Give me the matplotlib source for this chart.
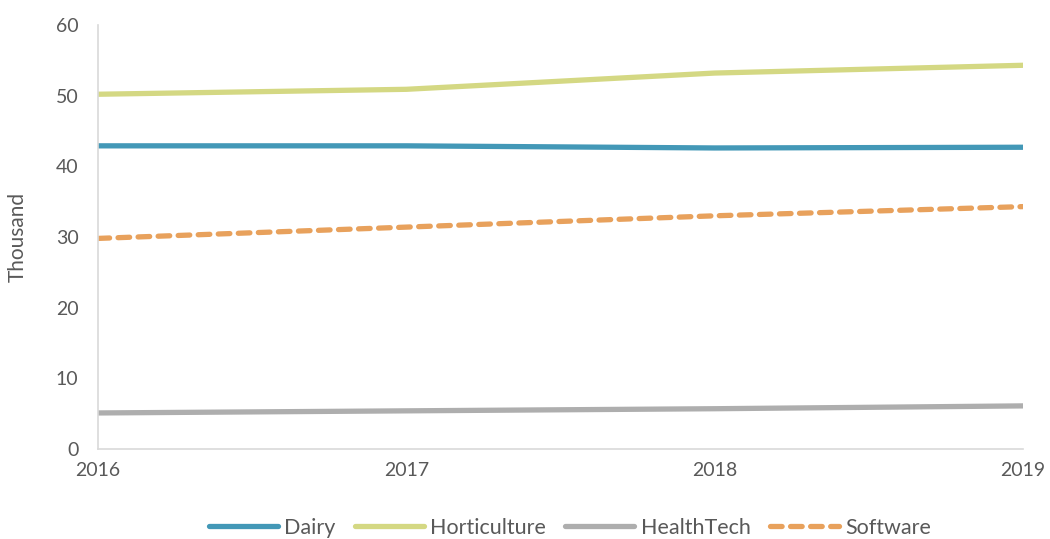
import matplotlib
matplotlib.use("Agg")
import matplotlib.pyplot as plt

years = [2016, 2017, 2018, 2019]
dairy = [42.9, 42.9, 42.6, 42.7]
horticulture = [50.2, 50.9, 53.2, 54.3]
healthtech = [5.1, 5.4, 5.7, 6.1]
software = [29.8, 31.4, 33.0, 34.3]
yticks = [0, 10, 20, 30, 40, 50, 60]

plt.rcParams['font.family'] = ['Lato', 'DejaVu Sans']
txt = '#595959'

fig = plt.figure(figsize=(10.5, 5.39), dpi=100)
ax = fig.add_axes([98/1050, 1-449/539, (1023-98)/1050, (449-25)/539])

lw = 3.8
ax.plot(years, dairy, color='#4398B7', lw=lw, solid_capstyle='round', label='Dairy')
ax.plot(years, horticulture, color='#D4D883', lw=lw, solid_capstyle='round', label='Horticulture')
ax.plot(years, healthtech, color='#AEAEAE', lw=lw, solid_capstyle='round', label='HealthTech')
ax.plot(years, software, color='#E8A15C', lw=lw, ls=(0, (2.2, 1.6)), dash_capstyle='round', label='Software')

ax.set_xlim(2016, 2019)
ax.set_ylim(0, 60)
ax.set_yticks(yticks)
ax.set_xticks(years)
ax.set_xticklabels([str(y) for y in years])
ax.tick_params(axis='both', length=0, labelsize=14, colors=txt)
ax.tick_params(axis='x', pad=9)
ax.tick_params(axis='y', pad=14)
for s in ['top', 'right']:
    ax.spines[s].set_visible(False)
for s in ['left', 'bottom']:
    ax.spines[s].set_color('#D9D9D9')
    ax.spines[s].set_linewidth(1.2)
ax.set_ylabel('Thousand', fontsize=15, color=txt, labelpad=20)

leg = fig.legend(loc='center', bbox_to_anchor=(570/1050, 1-528/539), ncol=4, frameon=False,
                 fontsize=15.5, handlelength=3.2, columnspacing=0.9, handletextpad=0.3)
for t in leg.get_texts():
    t.set_color(txt)

fig.savefig('out.png', dpi=100)
